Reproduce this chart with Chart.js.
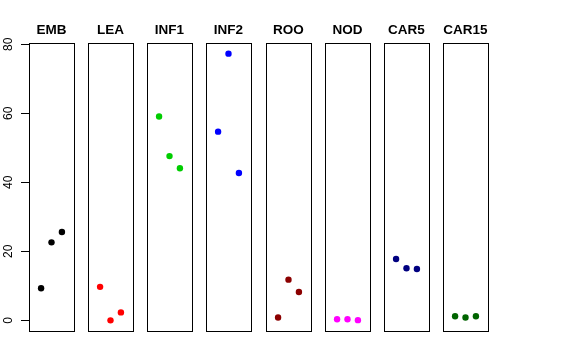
<!DOCTYPE html>
<html>
<head>
<meta charset="utf-8">
<script src="https://cdn.jsdelivr.net/npm/chart.js@4.4.1/dist/chart.umd.min.js"></script>
<style>
  html, body { margin: 0; padding: 0; background: #fff; }
  #wrap { position: relative; width: 576px; height: 360px; }
  #wrap canvas { position: absolute; top: 0; }
</style>
</head>
<body>
<div id="wrap"></div>
<script>
const groups = ['EMB', 'LEA', 'INF1', 'INF2', 'ROO', 'NOD', 'CAR5', 'CAR15'];
const colors = ['#000000', '#ff0000', '#00cd00', '#0000ff', '#8b0000', '#ff00ff', '#000080', '#006400'];

const emb   = [9.3, 22.6, 25.6];
const lea   = [9.7, 0.0, 2.3];
const inf1  = [59.1, 47.6, 44.1];
const inf2  = [54.7, 77.3, 42.7];
const roo   = [0.8, 11.8, 8.2];
const nod   = [0.3, 0.3, 0.05];
const car5  = [17.8, 15.1, 14.9];
const car15 = [1.2, 0.8, 1.2];
const series = [emb, lea, inf1, inf2, roo, nod, car5, car15];

const yTicks = [0, 20, 40, 60, 80];

// R style range: data range stretched by 4% on each side
const all = series.flat();
const lo = Math.min(...all), hi = Math.max(...all);
const yMin = lo - 0.04 * (hi - lo);
const yMax = hi + 0.04 * (hi - lo);

const panelLefts = [29, 88, 147, 206, 266, 325, 384, 443];
const panelW = 45;
const side = 8;

const panelFrame = {
  id: 'panelFrame',
  afterDraw(chart, args, opts) {
    const { ctx, chartArea: a } = chart;
    ctx.save();
    ctx.strokeStyle = '#000';
    ctx.lineWidth = 1;
    ctx.strokeRect(Math.round(a.left) + 0.5, Math.round(a.top) + 0.5,
                   Math.round(a.right - a.left), Math.round(a.bottom - a.top));
    ctx.fillStyle = '#000';
    ctx.font = 'bold 13.5px "Liberation Sans", Arial, sans-serif';
    ctx.textAlign = 'center';
    ctx.textBaseline = 'alphabetic';
    ctx.fillText(opts.text, (a.left + a.right) / 2, 34);
    ctx.restore();
  }
};

const wrap = document.getElementById('wrap');

groups.forEach((name, i) => {
  const first = i === 0;
  const canvas = document.createElement('canvas');
  const left = first ? 0 : panelLefts[i] - side;
  const width = first ? panelLefts[0] + panelW + side : panelW + 2 * side;
  canvas.width = width;
  canvas.height = 360;
  canvas.style.left = left + 'px';
  canvas.style.width = width + 'px';
  canvas.style.height = '360px';
  wrap.appendChild(canvas);

  const yScale = {
    type: 'linear',
    min: yMin,
    max: yMax,
    display: first,
    position: 'left',
    border: { display: false },
    grid: { drawOnChartArea: false, drawTicks: true, tickLength: 8, color: '#000', lineWidth: 1 },
    ticks: {
      minRotation: 90,
      maxRotation: 90,
      crossAlign: 'center',
      padding: 6,
      color: '#000',
      font: { family: '"Liberation Sans", Arial, sans-serif', size: 12 }
    },
    afterBuildTicks: s => { s.ticks = yTicks.map(v => ({ value: v })); }
  };
  if (first) yScale.afterFit = s => { s.width = panelLefts[0]; };

  new Chart(canvas.getContext('2d'), {
    type: 'scatter',
    data: {
      datasets: [{
        data: series[i].map((v, j) => ({ x: j + 1, y: v })),
        backgroundColor: colors[i],
        borderColor: colors[i],
        pointRadius: 3.2,
        pointHoverRadius: 3.2,
        borderWidth: 0
      }]
    },
    options: {
      responsive: false,
      animation: false,
      layout: { padding: { top: 43, bottom: 29, left: first ? 0 : side, right: side } },
      plugins: {
        legend: { display: false },
        tooltip: { enabled: false },
        panelFrame: { text: name }
      },
      scales: {
        x: { type: 'linear', min: -0.16, max: 4.16, display: false },
        y: yScale
      }
    },
    plugins: [panelFrame]
  });
});
</script>
</body>
</html>
